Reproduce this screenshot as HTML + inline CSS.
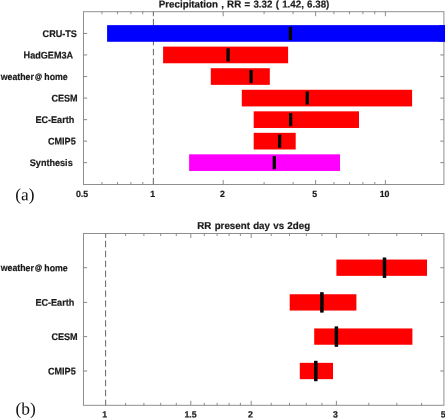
<!DOCTYPE html>
<html><head><meta charset="utf-8"><title>fig</title>
<style>
html,body{margin:0;padding:0;background:#fff;}
body{width:445px;height:418px;overflow:hidden;}
svg{display:block}
text{font-family:"Liberation Sans",sans-serif;font-weight:bold;fill:#1a1a1a;stroke:#1a1a1a;stroke-width:0.2px;}
.pl{font-family:"Liberation Serif",serif;font-weight:normal;fill:#111;stroke:none;}
</style></head><body>
<svg width="445" height="418" viewBox="0 0 445 418">
<rect width="445" height="418" fill="#fff"/>
<line x1="153.4" x2="153.4" y1="11.7" y2="184.5" stroke="#666" stroke-width="1" stroke-dasharray="6.5,3.43" stroke-dashoffset="2.6"/>
<rect x="107.1" y="25.13" width="342.9" height="16.65" fill="#0000ff"/>
<rect x="163.1" y="46.62" width="125.0" height="16.65" fill="#ff0000"/>
<rect x="210.8" y="68.22" width="59.0" height="16.65" fill="#ff0000"/>
<rect x="241.8" y="89.77" width="170.3" height="16.65" fill="#ff0000"/>
<rect x="253.7" y="111.33" width="105.3" height="16.65" fill="#ff0000"/>
<rect x="253.7" y="132.83" width="42.0" height="16.65" fill="#ff0000"/>
<rect x="189.1" y="154.33" width="150.9" height="16.65" fill="#ff00ff"/>
<rect x="83.5" y="11.7" width="360.4" height="172.8" fill="none" stroke="#8f8f8f" stroke-width="1"/>
<line x1="83.5" x2="87.1" y1="33.45" y2="33.45" stroke="#808080" stroke-width="0.95"/>
<line x1="443.9" x2="440.29999999999995" y1="33.45" y2="33.45" stroke="#808080" stroke-width="0.95"/>
<line x1="83.5" x2="87.1" y1="54.95" y2="54.95" stroke="#808080" stroke-width="0.95"/>
<line x1="443.9" x2="440.29999999999995" y1="54.95" y2="54.95" stroke="#808080" stroke-width="0.95"/>
<line x1="83.5" x2="87.1" y1="76.55" y2="76.55" stroke="#808080" stroke-width="0.95"/>
<line x1="443.9" x2="440.29999999999995" y1="76.55" y2="76.55" stroke="#808080" stroke-width="0.95"/>
<line x1="83.5" x2="87.1" y1="98.1" y2="98.1" stroke="#808080" stroke-width="0.95"/>
<line x1="443.9" x2="440.29999999999995" y1="98.1" y2="98.1" stroke="#808080" stroke-width="0.95"/>
<line x1="83.5" x2="87.1" y1="119.65" y2="119.65" stroke="#808080" stroke-width="0.95"/>
<line x1="443.9" x2="440.29999999999995" y1="119.65" y2="119.65" stroke="#808080" stroke-width="0.95"/>
<line x1="83.5" x2="87.1" y1="141.15" y2="141.15" stroke="#808080" stroke-width="0.95"/>
<line x1="443.9" x2="440.29999999999995" y1="141.15" y2="141.15" stroke="#808080" stroke-width="0.95"/>
<line x1="83.5" x2="87.1" y1="162.65" y2="162.65" stroke="#808080" stroke-width="0.95"/>
<line x1="443.9" x2="440.29999999999995" y1="162.65" y2="162.65" stroke="#808080" stroke-width="0.95"/>
<rect x="438.9" y="25.13" width="11.1" height="16.65" fill="#0000ff"/>
<rect x="288.75" y="26.90" width="3.3" height="13.1" fill="#000"/>
<text transform="translate(76.90,36.90) scale(0.938,1) rotate(0.03)" font-size="9.7" text-anchor="end">CRU-TS</text>
<rect x="226.45" y="48.40" width="3.3" height="13.1" fill="#000"/>
<text transform="translate(73.10,58.40) scale(0.938,1) rotate(0.03)" font-size="9.7" text-anchor="end">HadGEM3A</text>
<rect x="249.45" y="70.00" width="3.3" height="13.1" fill="#000"/>
<text transform="translate(67.70,80.00) scale(0.907,1) rotate(0.03)" font-size="9.7" text-anchor="end">weather<tspan font-size="8" dx="1.3" dy="-0.8" stroke-width="0.35">@</tspan><tspan dx="2.3" dy="0.8">home</tspan></text>
<rect x="305.65" y="91.55" width="3.3" height="13.1" fill="#000"/>
<text transform="translate(77.70,101.55) scale(0.938,1) rotate(0.03)" font-size="9.7" text-anchor="end">CESM</text>
<rect x="288.95" y="113.10" width="3.3" height="13.1" fill="#000"/>
<text transform="translate(74.30,123.10) scale(0.938,1) rotate(0.03)" font-size="9.7" text-anchor="end">EC-Earth</text>
<rect x="277.95" y="134.60" width="3.3" height="13.1" fill="#000"/>
<text transform="translate(75.70,144.60) scale(0.938,1) rotate(0.03)" font-size="9.7" text-anchor="end">CMIP5</text>
<rect x="272.65" y="156.10" width="3.3" height="13.1" fill="#000"/>
<text transform="translate(72.70,166.10) scale(0.938,1) rotate(0.03)" font-size="9.7" text-anchor="end">Synthesis</text>
<line x1="101.9" x2="101.9" y1="11.7" y2="14.2" stroke="#808080" stroke-width="0.9"/>
<line x1="101.9" x2="101.9" y1="184.5" y2="182.0" stroke="#808080" stroke-width="0.9"/>
<line x1="117.5" x2="117.5" y1="11.7" y2="14.2" stroke="#808080" stroke-width="0.9"/>
<line x1="117.5" x2="117.5" y1="184.5" y2="182.0" stroke="#808080" stroke-width="0.9"/>
<line x1="130.9" x2="130.9" y1="11.7" y2="14.2" stroke="#808080" stroke-width="0.9"/>
<line x1="130.9" x2="130.9" y1="184.5" y2="182.0" stroke="#808080" stroke-width="0.9"/>
<line x1="142.8" x2="142.8" y1="11.7" y2="14.2" stroke="#808080" stroke-width="0.9"/>
<line x1="142.8" x2="142.8" y1="184.5" y2="182.0" stroke="#808080" stroke-width="0.9"/>
<line x1="264.1" x2="264.1" y1="11.7" y2="14.2" stroke="#808080" stroke-width="0.9"/>
<line x1="264.1" x2="264.1" y1="184.5" y2="182.0" stroke="#808080" stroke-width="0.9"/>
<line x1="293.1" x2="293.1" y1="11.7" y2="14.2" stroke="#808080" stroke-width="0.9"/>
<line x1="293.1" x2="293.1" y1="184.5" y2="182.0" stroke="#808080" stroke-width="0.9"/>
<line x1="333.9" x2="333.9" y1="11.7" y2="14.2" stroke="#808080" stroke-width="0.9"/>
<line x1="333.9" x2="333.9" y1="184.5" y2="182.0" stroke="#808080" stroke-width="0.9"/>
<line x1="349.5" x2="349.5" y1="11.7" y2="14.2" stroke="#808080" stroke-width="0.9"/>
<line x1="349.5" x2="349.5" y1="184.5" y2="182.0" stroke="#808080" stroke-width="0.9"/>
<line x1="362.9" x2="362.9" y1="11.7" y2="14.2" stroke="#808080" stroke-width="0.9"/>
<line x1="362.9" x2="362.9" y1="184.5" y2="182.0" stroke="#808080" stroke-width="0.9"/>
<line x1="374.8" x2="374.8" y1="11.7" y2="14.2" stroke="#808080" stroke-width="0.9"/>
<line x1="374.8" x2="374.8" y1="184.5" y2="182.0" stroke="#808080" stroke-width="0.9"/>
<text transform="translate(82.00,196.90) scale(0.965,1) rotate(0.03)" font-size="9.1" text-anchor="middle">0.5</text>
<line x1="153.4" x2="153.4" y1="11.7" y2="16.2" stroke="#808080" stroke-width="0.9"/>
<line x1="153.4" x2="153.4" y1="184.5" y2="180.0" stroke="#808080" stroke-width="0.9"/>
<text transform="translate(152.70,196.90) scale(0.965,1) rotate(0.03)" font-size="9.1" text-anchor="middle">1</text>
<line x1="223.2" x2="223.2" y1="11.7" y2="16.2" stroke="#808080" stroke-width="0.9"/>
<line x1="223.2" x2="223.2" y1="184.5" y2="180.0" stroke="#808080" stroke-width="0.9"/>
<text transform="translate(222.50,196.90) scale(0.965,1) rotate(0.03)" font-size="9.1" text-anchor="middle">2</text>
<line x1="315.6" x2="315.6" y1="11.7" y2="16.2" stroke="#808080" stroke-width="0.9"/>
<line x1="315.6" x2="315.6" y1="184.5" y2="180.0" stroke="#808080" stroke-width="0.9"/>
<text transform="translate(314.80,196.90) scale(0.965,1) rotate(0.03)" font-size="9.1" text-anchor="middle">5</text>
<line x1="385.4" x2="385.4" y1="11.7" y2="16.2" stroke="#808080" stroke-width="0.9"/>
<line x1="385.4" x2="385.4" y1="184.5" y2="180.0" stroke="#808080" stroke-width="0.9"/>
<text transform="translate(384.60,196.90) scale(0.965,1) rotate(0.03)" font-size="9.1" text-anchor="middle">10</text>
<text word-spacing="0.55" transform="translate(158.80,7.40) scale(0.977,1) rotate(0.03)" font-size="10.0" text-anchor="start">Precipitation , RR = 3.32 ( 1.42, 6.38)</text>
<text class="pl" transform="translate(15.30,200.30) scale(1,1) rotate(0.03)" font-size="17.3" text-anchor="start">(a)</text>
<line x1="105.6" x2="105.6" y1="233.5" y2="405.3" stroke="#666" stroke-width="1" stroke-dasharray="6.5,3.43" stroke-dashoffset="2.63"/>
<rect x="336.4" y="259.55" width="90.6" height="16.3" fill="#ff0000"/>
<rect x="289.7" y="294.25" width="66.7" height="16.3" fill="#ff0000"/>
<rect x="314.2" y="328.45" width="98.2" height="16.3" fill="#ff0000"/>
<rect x="299.8" y="362.85" width="33.2" height="16.3" fill="#ff0000"/>
<rect x="83.5" y="233.5" width="360.4" height="171.8" fill="none" stroke="#8f8f8f" stroke-width="1"/>
<line x1="83.5" x2="87.1" y1="267.7" y2="267.7" stroke="#808080" stroke-width="0.95"/>
<line x1="443.9" x2="440.29999999999995" y1="267.7" y2="267.7" stroke="#808080" stroke-width="0.95"/>
<line x1="83.5" x2="87.1" y1="302.4" y2="302.4" stroke="#808080" stroke-width="0.95"/>
<line x1="443.9" x2="440.29999999999995" y1="302.4" y2="302.4" stroke="#808080" stroke-width="0.95"/>
<line x1="83.5" x2="87.1" y1="336.6" y2="336.6" stroke="#808080" stroke-width="0.95"/>
<line x1="443.9" x2="440.29999999999995" y1="336.6" y2="336.6" stroke="#808080" stroke-width="0.95"/>
<line x1="83.5" x2="87.1" y1="371.0" y2="371.0" stroke="#808080" stroke-width="0.95"/>
<line x1="443.9" x2="440.29999999999995" y1="371.0" y2="371.0" stroke="#808080" stroke-width="0.95"/>
<rect x="382.75" y="257.50" width="3.5" height="20.4" fill="#000"/>
<text transform="translate(67.70,271.15) scale(0.907,1) rotate(0.03)" font-size="9.7" text-anchor="end">weather<tspan font-size="8" dx="1.3" dy="-0.8" stroke-width="0.35">@</tspan><tspan dx="2.3" dy="0.8">home</tspan></text>
<rect x="320.15" y="292.20" width="3.5" height="20.4" fill="#000"/>
<text transform="translate(74.30,305.85) scale(0.938,1) rotate(0.03)" font-size="9.7" text-anchor="end">EC-Earth</text>
<rect x="334.65" y="326.40" width="3.5" height="20.4" fill="#000"/>
<text transform="translate(77.70,340.05) scale(0.938,1) rotate(0.03)" font-size="9.7" text-anchor="end">CESM</text>
<rect x="314.05" y="360.80" width="3.5" height="20.4" fill="#000"/>
<text transform="translate(75.70,374.45) scale(0.938,1) rotate(0.03)" font-size="9.7" text-anchor="end">CMIP5</text>
<line x1="125.6" x2="125.6" y1="233.5" y2="236.0" stroke="#808080" stroke-width="0.9"/>
<line x1="125.6" x2="125.6" y1="405.3" y2="402.8" stroke="#808080" stroke-width="0.9"/>
<line x1="143.9" x2="143.9" y1="233.5" y2="236.0" stroke="#808080" stroke-width="0.9"/>
<line x1="143.9" x2="143.9" y1="405.3" y2="402.8" stroke="#808080" stroke-width="0.9"/>
<line x1="160.7" x2="160.7" y1="233.5" y2="236.0" stroke="#808080" stroke-width="0.9"/>
<line x1="160.7" x2="160.7" y1="405.3" y2="402.8" stroke="#808080" stroke-width="0.9"/>
<line x1="176.3" x2="176.3" y1="233.5" y2="236.0" stroke="#808080" stroke-width="0.9"/>
<line x1="176.3" x2="176.3" y1="405.3" y2="402.8" stroke="#808080" stroke-width="0.9"/>
<line x1="204.3" x2="204.3" y1="233.5" y2="236.0" stroke="#808080" stroke-width="0.9"/>
<line x1="204.3" x2="204.3" y1="405.3" y2="402.8" stroke="#808080" stroke-width="0.9"/>
<line x1="217.1" x2="217.1" y1="233.5" y2="236.0" stroke="#808080" stroke-width="0.9"/>
<line x1="217.1" x2="217.1" y1="405.3" y2="402.8" stroke="#808080" stroke-width="0.9"/>
<line x1="229.1" x2="229.1" y1="233.5" y2="236.0" stroke="#808080" stroke-width="0.9"/>
<line x1="229.1" x2="229.1" y1="405.3" y2="402.8" stroke="#808080" stroke-width="0.9"/>
<line x1="240.4" x2="240.4" y1="233.5" y2="236.0" stroke="#808080" stroke-width="0.9"/>
<line x1="240.4" x2="240.4" y1="405.3" y2="402.8" stroke="#808080" stroke-width="0.9"/>
<line x1="271.2" x2="271.2" y1="233.5" y2="236.0" stroke="#808080" stroke-width="0.9"/>
<line x1="271.2" x2="271.2" y1="405.3" y2="402.8" stroke="#808080" stroke-width="0.9"/>
<line x1="289.5" x2="289.5" y1="233.5" y2="236.0" stroke="#808080" stroke-width="0.9"/>
<line x1="289.5" x2="289.5" y1="405.3" y2="402.8" stroke="#808080" stroke-width="0.9"/>
<line x1="306.3" x2="306.3" y1="233.5" y2="236.0" stroke="#808080" stroke-width="0.9"/>
<line x1="306.3" x2="306.3" y1="405.3" y2="402.8" stroke="#808080" stroke-width="0.9"/>
<line x1="321.9" x2="321.9" y1="233.5" y2="236.0" stroke="#808080" stroke-width="0.9"/>
<line x1="321.9" x2="321.9" y1="405.3" y2="402.8" stroke="#808080" stroke-width="0.9"/>
<line x1="368.8" x2="368.8" y1="233.5" y2="236.0" stroke="#808080" stroke-width="0.9"/>
<line x1="368.8" x2="368.8" y1="405.3" y2="402.8" stroke="#808080" stroke-width="0.9"/>
<line x1="396.8" x2="396.8" y1="233.5" y2="236.0" stroke="#808080" stroke-width="0.9"/>
<line x1="396.8" x2="396.8" y1="405.3" y2="402.8" stroke="#808080" stroke-width="0.9"/>
<line x1="421.6" x2="421.6" y1="233.5" y2="236.0" stroke="#808080" stroke-width="0.9"/>
<line x1="421.6" x2="421.6" y1="405.3" y2="402.8" stroke="#808080" stroke-width="0.9"/>
<line x1="105.6" x2="105.6" y1="233.5" y2="238.0" stroke="#808080" stroke-width="0.9"/>
<line x1="105.6" x2="105.6" y1="405.3" y2="400.8" stroke="#808080" stroke-width="0.9"/>
<text transform="translate(104.80,417.50) scale(0.965,1) rotate(0.03)" font-size="9.1" text-anchor="middle">1</text>
<line x1="190.8" x2="190.8" y1="233.5" y2="238.0" stroke="#808080" stroke-width="0.9"/>
<line x1="190.8" x2="190.8" y1="405.3" y2="400.8" stroke="#808080" stroke-width="0.9"/>
<text transform="translate(190.60,417.50) scale(0.965,1) rotate(0.03)" font-size="9.1" text-anchor="middle">1.5</text>
<line x1="251.2" x2="251.2" y1="233.5" y2="238.0" stroke="#808080" stroke-width="0.9"/>
<line x1="251.2" x2="251.2" y1="405.3" y2="400.8" stroke="#808080" stroke-width="0.9"/>
<text transform="translate(250.40,417.50) scale(0.965,1) rotate(0.03)" font-size="9.1" text-anchor="middle">2</text>
<line x1="336.4" x2="336.4" y1="233.5" y2="238.0" stroke="#808080" stroke-width="0.9"/>
<line x1="336.4" x2="336.4" y1="405.3" y2="400.8" stroke="#808080" stroke-width="0.9"/>
<text transform="translate(335.40,417.50) scale(0.965,1) rotate(0.03)" font-size="9.1" text-anchor="middle">3</text>
<text transform="translate(443.30,417.50) scale(0.965,1) rotate(0.03)" font-size="9.1" text-anchor="middle">5</text>
<text word-spacing="0.55" transform="translate(197.30,228.90) scale(0.977,1) rotate(0.03)" font-size="10.0" text-anchor="start">RR present day vs 2deg</text>
<text class="pl" transform="translate(15.50,414.60) scale(1,1) rotate(0.03)" font-size="17.4" text-anchor="start">(b)</text>
</svg></body></html>
